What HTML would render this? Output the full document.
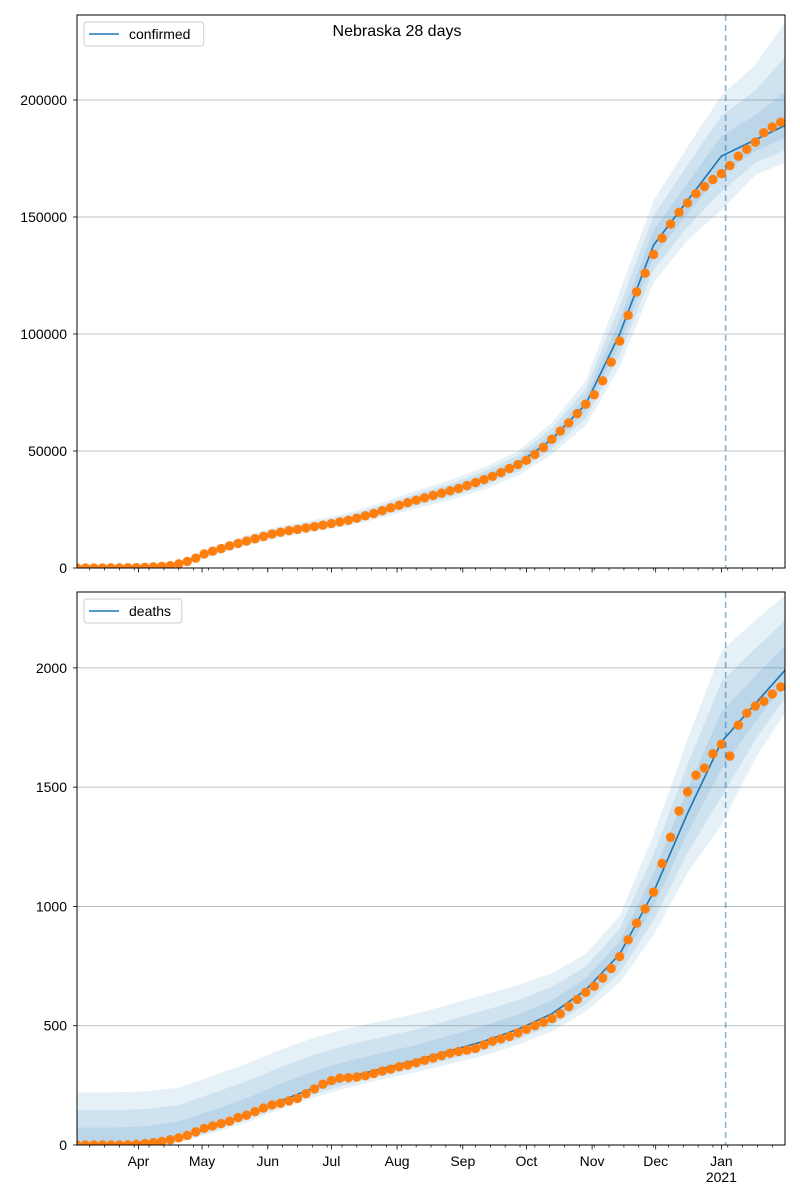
<!DOCTYPE html>
<html><head><meta charset="utf-8"><style>
body{margin:0;background:#fff;}
svg{display:block;font-family:"Liberation Sans","DejaVu Sans",sans-serif;}
</style></head><body>
<svg id="chart" width="800" height="1200" viewBox="0 0 800 1200">
<rect width="800" height="1200" fill="#fff"/>
<text x="397" y="36" font-size="16" text-anchor="middle">Nebraska 28 days</text>
</svg>
<script>
// x: days since Mar 3 2020
const obsDays4 = 4; // observation sampling step in days
const confirmedObs = [0,0,10,20,50,80,120,180,300,500,700,1000,1800,2800,4200,6000,7200,8300,9500,10500,11500,12500,13500,14500,15300,16000,16500,17100,17700,18300,19000,19700,20400,21300,22300,23300,24500,25700,26800,27900,29000,30000,31000,32000,33000,34000,35200,36500,37800,39200,40800,42500,44200,46000,48500,51500,55000,58500,62000,66000,70000,74000,80000,88000,97000,108000,118000,126000,134000,141000,147000,152000,156000,160000,163000,166000,168500,172000,176000,179000,182000,186000,188500,190500];
const deathsObs = [0,0,0,0,0,0,1,3,6,10,15,22,30,40,55,70,80,90,100,115,125,140,155,168,175,185,195,215,235,255,270,280,282,285,290,300,310,318,328,335,345,355,365,375,385,392,398,405,420,435,445,455,470,485,500,515,530,550,580,610,640,665,700,740,790,860,930,990,1060,1180,1290,1400,1480,1550,1580,1640,1680,1630,1760,1810,1840,1860,1890,1920];
const modelStep = 16;
const confirmedModel = [0,50,300,1800,7000,11500,15300,17700,20500,24500,29000,33000,38000,44500,55000,70000,100000,138000,157000,176000,183000,190000];
const confirmedHi = [0,100,600,2800,9000,14000,18000,20500,23500,28000,33000,37500,43000,50000,62000,80000,118000,157000,180000,202000,215000,236000];
const confirmedLo = [0,0,100,1000,5000,9500,13000,15500,18000,21500,25500,29000,33500,39500,48500,61000,86000,122000,140000,153000,168000,174000];
const deathsModel = [0,0,5,30,75,125,185,240,285,320,355,395,435,485,550,650,800,1060,1390,1690,1850,2010];
const deathsHi = [220,220,225,240,290,340,400,450,490,520,550,590,630,670,720,800,960,1300,1700,2070,2200,2320];
const deathsLo = [0,0,0,10,50,95,150,200,240,275,305,340,375,420,475,560,680,880,1140,1340,1620,1840];
const monthLabels = ["Apr","May","Jun","Jul","Aug","Sep","Oct","Nov","Dec","Jan"];
const monthDays = [29,59,90,120,151,182,212,243,273,304];
const confTicks = [0,50000,100000,150000,200000];
const deathTicks = [0,500,1000,1500,2000];
const forecastDay = 306;

const NS="http://www.w3.org/2000/svg";
const svg=document.getElementById('chart');
const X0=77,X1=785,D0=0,D1=334;
const xs=d=>X0+(d-D0)/(D1-D0)*(X1-X0);
function mk(tag,attrs,parent){const e=document.createElementNS(NS,tag);for(const k in attrs)e.setAttribute(k,attrs[k]);(parent||svg).appendChild(e);return e;}

function panel(top,bottom,ymax,obs,model,hi,lo,ticks,label,name,showX){
  const ys=v=>bottom-v/ymax*(bottom-top);
  const g=mk('g',{});
  
  
  const cid='clip-'+name;
  const cp=mk('clipPath',{id:cid},g);mk('rect',{x:X0,y:top,width:X1-X0,height:bottom-top},cp);
  ticks.forEach(t=>{
    const l=mk('line',{x1:X0,x2:X1,y1:ys(t),y2:ys(t),stroke:'#b0b0b0','stroke-width':0.8},g);
    
    
    mk('line',{x1:X0-4,x2:X0,y1:ys(t),y2:ys(t),stroke:'#000','stroke-width':0.8},g);
    const tx=mk('text',{x:X0-10,y:ys(t)+5,'font-size':14,'text-anchor':'end'},g);
    tx.textContent=t;
    
    
  });
  const cg=mk('g',{'clip-path':'url(#'+cid+')'},g);
  [1,0.66,0.33].forEach(f=>{
    let up='',dn='';
    model.forEach((m,i)=>{const d=i*modelStep;up+=(i?'L':'M')+xs(d)+','+ys(m+(hi[i]-m)*f);});
    for(let i=model.length-1;i>=0;i--){const d=i*modelStep;dn+='L'+xs(d)+','+ys(model[i]+(lo[i]-model[i])*f);}
    const p=mk('path',{d:up+dn+'Z',fill:'#1f77b4','fill-opacity':0.11},cg);
    
    
  });
  let md='';model.forEach((m,i)=>{md+=(i?'L':'M')+xs(i*modelStep)+','+ys(m);});
  const ml=mk('path',{d:md,fill:'none',stroke:'#1f77b4','stroke-width':1.6},cg);
  
  
  obs.forEach((v,i)=>{
    const c=mk('circle',{cx:xs(i*obsDays4),cy:ys(v),r:4.7,fill:'#ff7f0e'},cg);
    
    
  });
  const fl=mk('line',{x1:xs(forecastDay),x2:xs(forecastDay),y1:top,y2:bottom,stroke:'#1f77b4','stroke-opacity':0.55,'stroke-width':1.6,'stroke-dasharray':'6,4'},g);
  
  
  for(let d=6;d<=D1;d+=7){mk('line',{x1:xs(d),x2:xs(d),y1:bottom,y2:bottom+2.5,stroke:'#000','stroke-width':0.7},g);}
  monthDays.forEach((d,i)=>{
    mk('line',{x1:xs(d),x2:xs(d),y1:bottom,y2:bottom+4.5,stroke:'#000','stroke-width':0.8},g);
    if(showX){
      const t=mk('text',{x:xs(d),y:bottom+21,'font-size':14,'text-anchor':'middle'},g);
      t.textContent=monthLabels[i];
      
      
      if(monthLabels[i]==='Jan'){const y=mk('text',{x:xs(d),y:bottom+37,'font-size':14,'text-anchor':'middle'},g);y.textContent='2021';}
    }
  });
  mk('rect',{x:X0,y:top,width:X1-X0,height:bottom-top,fill:'none',stroke:'#000','stroke-width':1},g);
  const lg=mk('g',{},g);
  
  
  const w=label.length*7.3+54;
  mk('rect',{x:84,y:top+7,width:w,height:24,rx:3,fill:'#fff','fill-opacity':0.8,stroke:'#ccc'},lg);
  mk('line',{x1:89,x2:119,y1:top+19,y2:top+19,stroke:'#1f77b4','stroke-width':1.6},lg);
  const lt=mk('text',{x:129,y:top+24,'font-size':14},lg);lt.textContent=label;
}
panel(15,568,236325,confirmedObs,confirmedModel,confirmedHi,confirmedLo,confTicks,'confirmed','confirmed',false);
panel(592,1145,2318,deathsObs,deathsModel,deathsHi,deathsLo,deathTicks,'deaths','deaths',true);
</script>
</body></html>
